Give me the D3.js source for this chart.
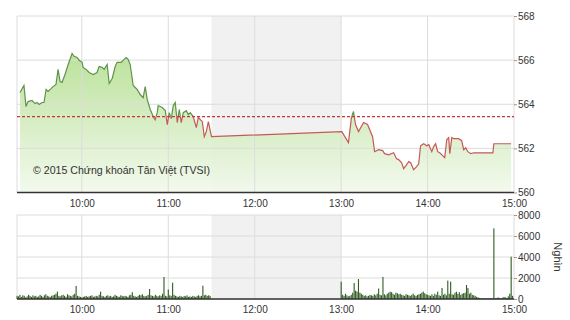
<!DOCTYPE html>
<html>
<head>
<meta charset="utf-8">
<script src="https://cdn.jsdelivr.net/npm/d3@7"></script>
<style>
  body { margin: 0; background: #fff; }
  svg text { font-family: Arial, "Liberation Sans", sans-serif; fill: #333; }
  .grid line { stroke: #dcdcdc; stroke-width: 1; }
  .axis .domain { display: none; }
  .axis line { stroke: #999; }
</style>
</head>
<body>
<div id="chart"></div>
<script>
// gia chi so (thoi gian, diem)
var priceTimes = [
  "09:17:05","09:19:50","09:21:15","09:22:40","09:25:25","09:27:30","09:28:55","09:30:20","09:32:25","09:33:45",
  "09:35:10","09:36:35","09:38:40","09:40:00","09:42:05","09:43:30","09:44:55","09:46:15","09:48:20","09:50:30",
  "09:53:15","09:54:40","09:56:45","09:58:05","10:00:10","10:00:55","10:03:00","10:05:05","10:07:50","10:10:35",
  "10:12:00","10:14:05","10:15:30","10:17:35","10:19:00","10:21:05","10:23:10","10:24:30","10:27:20","10:28:40",
  "10:30:45","10:32:10","10:33:35","10:35:40","10:38:25","10:40:30","10:42:35","10:44:00","10:45:25","10:47:30",
  "10:49:35","10:50:55","10:52:20","10:53:00","10:55:50","10:57:55","10:59:20","11:00:40","11:02:05","11:03:30",
  "11:04:50","11:06:15","11:07:40","11:09:00","11:10:25","11:12:30","11:13:55","11:15:15","11:17:20","11:19:30",
  "11:20:50","11:23:40","11:25:00","11:26:25","11:27:50","11:30:00",
  "13:00:30","13:05:05","13:07:10","13:08:35","13:10:00","13:12:05","13:15:35","13:18:20","13:21:50","13:23:15",
  "13:26:00","13:28:50","13:30:10","13:33:00","13:36:25","13:38:30","13:39:55","13:42:00","13:43:25","13:45:30",
  "13:46:55","13:48:15","13:50:20","13:52:25","13:53:50","13:55:10","13:57:20","13:59:25","14:00:50","14:02:55",
  "14:04:15","14:05:35","14:07:00","14:08:25","14:10:30","14:11:55","14:13:20","14:14:40","14:15:25","14:16:50",
  "14:18:10","14:21:35","14:23:40","14:25:05","14:26:30","14:27:55","14:30:00","14:32:05","14:45:20","14:46:00",
  "14:58:00"
];
var priceValues = [
  564.53,564.85,563.90,564.12,564.17,564.03,564.08,563.99,564.08,564.08,
  564.67,564.58,564.71,564.80,564.90,565.58,565.03,564.99,565.35,565.80,
  566.30,566.17,566.12,565.99,565.90,565.67,565.58,565.44,565.35,565.44,
  565.71,565.67,565.58,565.80,564.94,565.17,565.71,565.90,565.90,565.99,
  566.12,566.03,565.80,564.85,564.67,564.44,564.30,564.80,564.21,563.76,
  563.44,563.30,563.62,563.94,563.85,563.71,563.08,563.62,563.35,563.94,
  564.08,563.17,563.76,563.17,563.62,563.71,563.53,563.62,563.44,562.94,
  563.40,563.21,562.53,562.76,563.21,562.53,
  562.76,562.26,563.40,563.67,563.08,562.76,563.17,563.08,562.53,561.85,
  561.94,561.90,561.76,561.71,561.80,561.53,561.49,561.35,561.08,561.26,
  561.40,561.35,561.03,561.17,561.30,562.12,562.21,562.12,562.17,561.85,
  562.08,562.21,561.85,561.80,561.67,561.58,562.40,562.49,561.76,562.49,
  562.44,562.44,562.35,561.94,562.03,561.85,561.76,561.80,561.80,562.21,
  562.21
];
var refValue = 563.44;

// khoi luong (nghin), moi phut
var volMorningStart = "09:15";
var volMorning = [
  300,250,400,200,350,300,150,250,400,300,200,350,250,300,200,
  250,400,300,200,350,450,300,250,200,300,350,400,500,700,300,
  250,350,400,300,200,450,350,300,250,400,500,1250,300,250,200,
  150,200,250,300,200,250,300,350,200,250,300,250,400,700,300,
  250,200,300,350,250,300,200,250,400,300,250,200,350,300,250,
  300,250,200,350,400,650,300,250,200,300,400,350,450,300,250,
  300,400,950,350,300,250,400,300,250,350,300,500,2100,300,250,
  900,350,300,1550,400,300,250,200,300,250,200,300,250,350,200,
  250,200,300,250,200,300,350,250,300,1270,350,400,300,350,300
];
var volAfternoonStart = "13:00";
var volAfternoon = [
  1650,400,300,500,350,250,300,400,600,1520,800,700,1900,600,500,
  400,300,350,250,300,400,350,300,450,350,500,1000,400,350,2100,
  450,350,500,600,700,650,500,400,600,550,450,500,400,350,300,
  450,400,350,300,400,500,350,300,400,450,500,600,700,550,450,
  400,350,300,450,300,500,400,700,350,300,1050,400,500,350,1750,
  500,1650,450,400,600,700,500,650,400,500,550,600,1330,1050,500,
  600,400,350,300,200,150,100,50,80,60,50,40,60,50,80,
  60,6730,80,100,150,80,60,120,200,150,100,250,500,4030,300
];

var hourTicks = ["10:00","11:00","12:00","13:00","14:00","15:00"];
var priceTicks = [560, 562, 564, 566, 568];
var volTicks = [0, 2000, 4000, 6000, 8000];
var lunchBreak = ["11:30", "13:00"];
var copyright = "© 2015 Chứng khoán Tân Việt (TVSI)";
var volUnit = "Nghìn";

var width = 570, height = 320;
var left = 17, right = 514;

var parseSec = d3.timeParse("%H:%M:%S");
var parseMin = d3.timeParse("%H:%M");

var svg = d3.select("#chart").append("svg")
  .attr("width", width)
  .attr("height", height);

var x = d3.scaleTime()
  .domain([parseMin("09:15"), parseMin("15:00")])
  .range([left, right]);

var yPrice = d3.scaleLinear().domain([560, 568]).range([192.5, 16]);
var yVol = d3.scaleLinear().domain([0, 8000]).range([299, 215]);

var prices = priceTimes.map(function(t, i) {
  return { t: parseSec(t), v: priceValues[i] };
});

function buildVol(start, arr) {
  var s = parseMin(start);
  return arr.map(function(v, i) {
    return { t: d3.timeMinute.offset(s, i), v: v };
  });
}
var volumes = buildVol(volMorningStart, volMorning).concat(buildVol(volAfternoonStart, volAfternoon));

var defs = svg.append("defs");
var grad = defs.append("linearGradient")
  .attr("id", "areaGrad")
  .attr("gradientUnits", "userSpaceOnUse")
  .attr("x1", 0).attr("x2", 0)
  .attr("y1", yPrice(566.5)).attr("y2", yPrice(560));
grad.append("stop").attr("offset", 0).attr("stop-color", "#b2de8e");
grad.append("stop").attr("offset", 1).attr("stop-color", "#f2f9ec");

defs.append("clipPath").attr("id", "clipUp")
  .append("rect")
  .attr("x", left).attr("y", 0)
  .attr("width", right - left).attr("height", yPrice(refValue));
defs.append("clipPath").attr("id", "clipDown")
  .append("rect")
  .attr("x", left).attr("y", yPrice(refValue))
  .attr("width", right - left).attr("height", yPrice(560) - yPrice(refValue));

// nen nghi trua
function drawBreak(yTop, yBottom) {
  svg.append("rect")
    .attr("x", x(parseMin(lunchBreak[0])))
    .attr("y", yTop)
    .attr("width", x(parseMin(lunchBreak[1])) - x(parseMin(lunchBreak[0])))
    .attr("height", yBottom - yTop)
    .attr("fill", "#f1f1f1");
}
drawBreak(yPrice(568), yPrice(560));
drawBreak(yVol(8000), yVol(0));

// luoi
function drawGrid(yScale, ticks) {
  var g = svg.append("g").attr("class", "grid");
  g.selectAll(".h").data(ticks).enter().append("line")
    .attr("x1", left).attr("x2", right)
    .attr("y1", function(d) { return yScale(d); })
    .attr("y2", function(d) { return yScale(d); });
  g.selectAll(".v").data(["09:15"].concat(hourTicks)).enter().append("line")
    .attr("x1", function(d) { return x(parseMin(d)); })
    .attr("x2", function(d) { return x(parseMin(d)); })
    .attr("y1", yScale.range()[1])
    .attr("y2", yScale.range()[0]);
}

// vung gia
var area = d3.area()
  .x(function(d) { return x(d.t); })
  .y0(yPrice(560))
  .y1(function(d) { return yPrice(d.v); });

svg.append("path")
  .datum(prices)
  .attr("d", area)
  .attr("fill", "url(#areaGrad)")
  .attr("opacity", 0.9);

drawGrid(yPrice, priceTicks);
drawGrid(yVol, volTicks);

var line = d3.line()
  .x(function(d) { return x(d.t); })
  .y(function(d) { return yPrice(d.v); });

svg.append("path")
  .datum(prices)
  .attr("d", line)
  .attr("fill", "none")
  .attr("stroke", "#5f9447")
  .attr("stroke-width", 1.2)
  .attr("clip-path", "url(#clipUp)");

svg.append("path")
  .datum(prices)
  .attr("d", line)
  .attr("fill", "none")
  .attr("stroke", "#c45a58")
  .attr("stroke-width", 1.2)
  .attr("clip-path", "url(#clipDown)");

// duong tham chieu
svg.append("line")
  .attr("x1", left).attr("x2", right)
  .attr("y1", yPrice(refValue)).attr("y2", yPrice(refValue))
  .attr("stroke", "#c0393a")
  .attr("stroke-width", 1.2)
  .attr("stroke-dasharray", "3,2");

// cot khoi luong
svg.append("g").selectAll("rect")
  .data(volumes)
  .enter().append("rect")
  .attr("x", function(d) { return x(d.t) - 0.5; })
  .attr("y", function(d) { return yVol(d.v); })
  .attr("width", 1.1)
  .attr("height", function(d) { return yVol(0) - yVol(d.v); })
  .attr("fill", "#2f5d22");

// truc day
svg.append("line")
  .attr("x1", left).attr("x2", right)
  .attr("y1", yPrice(560)).attr("y2", yPrice(560))
  .attr("stroke", "#333").attr("stroke-width", 1.5);
svg.append("line")
  .attr("x1", left).attr("x2", right)
  .attr("y1", yVol(0)).attr("y2", yVol(0))
  .attr("stroke", "#333").attr("stroke-width", 1.5);

// truc phai
svg.append("g")
  .attr("class", "axis")
  .attr("transform", "translate(" + right + ",0)")
  .call(d3.axisRight(yPrice).tickValues(priceTicks).tickSize(3).tickPadding(1))
  .selectAll("text").style("font-size", "10px");

svg.append("g")
  .attr("class", "axis")
  .attr("transform", "translate(" + right + ",0)")
  .call(d3.axisRight(yVol).tickValues(volTicks).tickFormat(d3.format("d")).tickSize(3).tickPadding(1))
  .selectAll("text").style("font-size", "10px");

// truc thoi gian
var xAxis = d3.axisBottom(x)
  .tickValues(hourTicks.map(parseMin))
  .tickFormat(d3.timeFormat("%H:%M"))
  .tickSize(0)
  .tickPadding(7);

svg.append("g")
  .attr("class", "axis")
  .attr("transform", "translate(0," + yPrice(560) + ")")
  .call(xAxis)
  .selectAll("text").style("font-size", "10px");

svg.append("g")
  .attr("class", "axis")
  .attr("transform", "translate(0," + yVol(0) + ")")
  .call(xAxis)
  .selectAll("text").style("font-size", "10px");

// ghi chu
svg.append("text")
  .attr("x", 33)
  .attr("y", 174)
  .style("font-size", "10.6px")
  .text(copyright);

svg.append("text")
  .attr("transform", "translate(554," + yVol(4000) + ") rotate(90)")
  .attr("text-anchor", "middle")
  .style("font-size", "11px")
  .text(volUnit);
</script>
</body>
</html>
